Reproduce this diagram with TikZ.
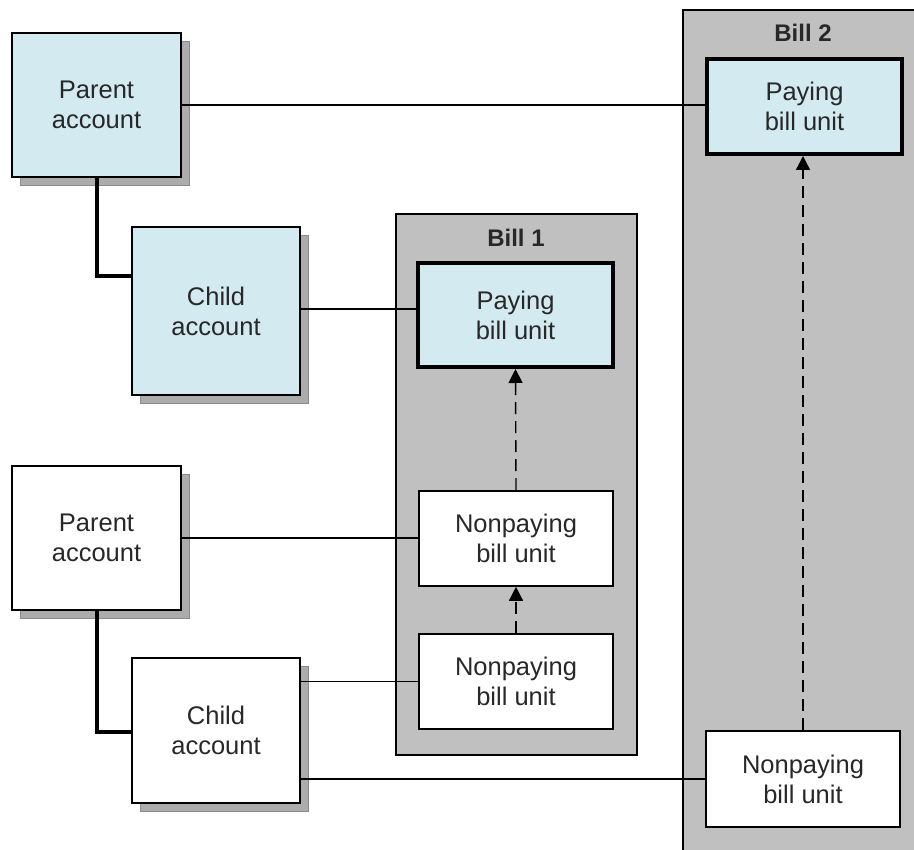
\documentclass[tikz,border=0pt]{standalone}
\usepackage{fontspec}
\setmainfont{Liberation Sans}
\usetikzlibrary{arrows.meta,shadows}
\definecolor{paleblue}{RGB}{211,234,240}
\definecolor{billgray}{RGB}{192,192,192}
\definecolor{shadowgray}{RGB}{172,172,172}
\definecolor{inkgray}{RGB}{40,40,40}

\begin{document}
\begin{tikzpicture}[x=1pt,y=-1pt,
  boxtext/.style={align=center, inner sep=0pt, text=inkgray,
    font=\fontsize{25.5}{30}\selectfont},
  acct/.style={boxtext, draw=black, line width=1.6pt, fill=white,
    drop shadow={shadow xshift=8pt, shadow yshift=-8pt,
      fill=shadowgray, draw=shadowgray!80!black, line width=0.4pt, opacity=1}},
  acctblue/.style={acct, fill=paleblue},
  unit/.style={boxtext, draw=black, line width=1.6pt, fill=white,
    minimum width=194pt, minimum height=95pt},
  payunit/.style={unit, line width=4pt, fill=paleblue},
  billbox/.style={draw=black, line width=2pt, fill=billgray},
  billtitle/.style={font=\bfseries\fontsize{24}{28}\selectfont, text=inkgray},
  link/.style={draw=black, line width=1.4pt},
  ownlink/.style={draw=black, line width=4pt},
  rollup/.style={draw=black, line width=1.4pt, dash pattern=on 12pt off 7pt,
    -{Triangle[length=14pt,width=14pt]}},
]
\useasboundingbox (0,0) rectangle (914,850);
\clip (0,0) rectangle (914,850);
\fill[white] (0,0) rectangle (914,850);

% bill containers
\path[billbox] (396,214) rectangle (637,755);
\path[billbox] (683,10) rectangle (930,870);
\node[billtitle] (bill1) at (516,238) {Bill 1};
\node[billtitle] (bill2) at (803,33) {Bill 2};

% accounts
\node[acctblue, minimum width=169pt, minimum height=144pt] (parent1) at (96.5,105) {Parent\\account};
\node[acctblue, minimum width=168pt, minimum height=168pt] (child1) at (216,311) {Child\\account};
\node[acct, minimum width=169pt, minimum height=144pt] (parent2) at (96.5,538) {Parent\\account};
\node[acct, minimum width=168pt, minimum height=145pt] (child2) at (216,730.5) {Child\\account};

% bill units
\node[payunit, minimum width=195pt, minimum height=104pt] (pay1) at (515.5,315) {Paying\\bill unit};
\node[unit] (non1a) at (516,538.5) {Nonpaying\\bill unit};
\node[unit] (non1b) at (516,681.5) {Nonpaying\\bill unit};
\node[payunit, minimum width=195pt] (pay2) at (804.5,106.5) {Paying\\bill unit};
\node[unit, minimum height=96pt] (non2) at (803,779) {Nonpaying\\bill unit};

% account hierarchy
\draw[ownlink] (parent1.south) |- ([yshift=35pt]child1.west);
\draw[ownlink] (parent2.south) |- ([yshift=-1.5pt]child2.west);

% account to bill unit links
\draw[link] (parent1.east) -- (parent1.east -| pay2.west);
\draw[link] ([yshift=2pt]child1.east) -- ([yshift=2pt]child1.east -| pay1.west);
\draw[link] (parent2.east) -- (parent2.east -| non1a.west);
\draw[link] (child2.east |- non1b.west) -- (non1b.west);
\draw[link] (child2.east |- non2.west) -- (non2.west);

% nonpaying units roll up to paying units
\draw[rollup] (non1b.north) -- (non1a.south);
\draw[rollup] (non1a.north) -- (pay1.south);
\draw[rollup] (non2.north) -- (non2.north |- pay2.south);
\end{tikzpicture}
\end{document}
